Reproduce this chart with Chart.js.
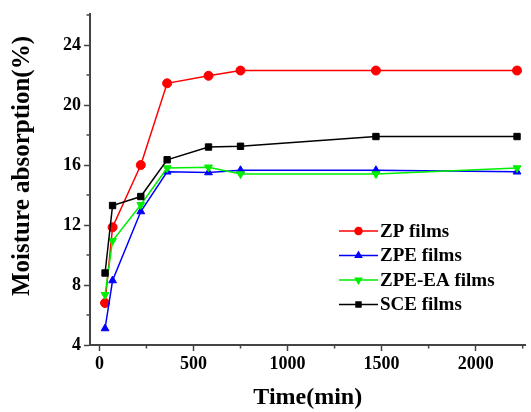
<!DOCTYPE html>
<html>
<head>
<meta charset="utf-8">
<script src="https://cdn.jsdelivr.net/npm/chart.js@4.4.1/dist/chart.umd.min.js"></script>
<style>
  html, body { margin: 0; padding: 0; background: #fff; }
  #wrap { width: 531px; height: 412px; position: relative; }
</style>
</head>
<body>
<div id="wrap"><canvas id="chart"></canvas></div>
<script>
const TIME_MIN = [30, 70, 220, 360, 580, 750, 1470, 2220];
const ZP = [6.8, 11.85, 16.0, 21.45, 21.95, 22.3, 22.3, 22.3];
const ZPE = [5.1, 8.3, 12.9, 15.55, 15.5, 15.65, 15.65, 15.55];
const ZPE_EA = [7.35, 10.95, 13.35, 15.8, 15.85, 15.4, 15.4, 15.8];
const SCE = [8.8, 13.3, 13.9, 16.35, 17.2, 17.25, 17.9, 17.9];

const SERIES_LABELS = ['ZP films', 'ZPE films', 'ZPE-EA films', 'SCE films'];
const Y_TITLE = 'Moisture absorption(%)';
const X_MAJOR = 500, Y_MAJOR = 4;

const FONT = 'Liberation Serif, Times New Roman, serif';
const AXIS_COLOR = '#444';

const pts = ys => ys.map((y, i) => ({ x: TIME_MIN[i], y }));

function series(label, data, color, style, rotation, order) {
    return {
        label, data: pts(data),
        borderColor: color, backgroundColor: color,
        borderWidth: 1.5, pointStyle: style, rotation,
        pointRadius: 4.5, pointBorderWidth: 1, order, tension: 0
    };
}

// short minor ticks, major ones are drawn by the library
const minorTicks = {
    id: 'minorTicks',
    afterDraw(chart) {
        const ctx = chart.ctx;
        const xs = chart.scales.x, ys = chart.scales.y;
        ctx.save();
        ctx.strokeStyle = AXIS_COLOR;
        ctx.lineWidth = 1.5;
        ctx.beginPath();
        for (const t of xs.ticks) {
            if (t.value % X_MAJOR === 0) continue;
            const px = xs.getPixelForValue(t.value);
            ctx.moveTo(px, xs.top); ctx.lineTo(px, xs.top + 3.5);
        }
        for (const t of ys.ticks) {
            if (t.value % Y_MAJOR === 0) continue;
            const py = ys.getPixelForValue(t.value);
            ctx.moveTo(ys.right, py); ctx.lineTo(ys.right - 3.5, py);
        }
        ctx.stroke();
        ctx.restore();
    }
};

// y title sits a bit above the axis centre in the original
const yTitle = {
    id: 'yTitle',
    afterDraw(chart) {
        const ctx = chart.ctx;
        ctx.save();
        ctx.translate(23, 166);
        ctx.rotate(-Math.PI / 2);
        ctx.font = 'bold 25px ' + FONT;
        ctx.fillStyle = '#000';
        ctx.textAlign = 'center';
        ctx.textBaseline = 'middle';
        ctx.fillText(Y_TITLE, 0, 0);
        ctx.restore();
    }
};

// legend with line + marker like the original
const lineLegend = {
    id: 'lineLegend',
    afterDraw(chart) {
        const ctx = chart.ctx;
        const x0 = 339, x1 = 378, rowY = [231, 255.5, 280, 304.5];
        ctx.save();
        chart.data.datasets.forEach((ds, i) => {
            const y = rowY[i];
            ctx.strokeStyle = ds.borderColor;
            ctx.lineWidth = 1.5;
            ctx.beginPath(); ctx.moveTo(x0, y); ctx.lineTo(x1, y); ctx.stroke();
            ctx.fillStyle = ds.backgroundColor;
            Chart.helpers.drawPoint(ctx, {
                pointStyle: ds.pointStyle, rotation: ds.rotation || 0,
                radius: 3.5, borderWidth: 1
            }, (x0 + x1) / 2, y);
            ctx.fillStyle = '#000';
            ctx.font = 'bold 19px ' + FONT;
            ctx.textBaseline = 'middle';
            ctx.textAlign = 'left';
            ctx.fillText(ds.label, x1 + 2, y + 1);
        });
        ctx.restore();
    }
};

new Chart(document.getElementById('chart'), {
    type: 'line',
    data: {
        datasets: [
            series(SERIES_LABELS[0], ZP, '#ff0000', 'circle', 0, 4),
            series(SERIES_LABELS[1], ZPE, '#0000ff', 'triangle', 0, 3),
            series(SERIES_LABELS[2], ZPE_EA, '#00ee00', 'triangle', 180, 2),
            series(SERIES_LABELS[3], SCE, '#000000', 'rect', 0, 1)
        ]
    },
    options: {
        responsive: true, maintainAspectRatio: false, animation: false,
        layout: { padding: { top: 14, right: 4, left: 0, bottom: 0 } },
        plugins: { legend: { display: false }, tooltip: { enabled: false } },
        scales: {
            x: {
                type: 'linear', min: -50, max: 2265,
                grid: { drawOnChartArea: false, tickLength: 6, tickWidth: 1.5,
                    tickColor: c => (c.tick && c.tick.value % X_MAJOR === 0) ? AXIS_COLOR : 'rgba(0,0,0,0)' },
                border: { color: AXIS_COLOR, width: 2 },
                ticks: {
                    stepSize: 250, includeBounds: false, maxRotation: 0, autoSkip: false,
                    color: '#000', padding: 3,
                    font: { family: FONT, size: 18, weight: 'bold' },
                    callback: v => v % X_MAJOR === 0 ? String(v) : ''
                },
                title: { display: true, text: 'Time(min)', color: '#000',
                    font: { family: FONT, size: 24, weight: 'bold' }, padding: { top: 0, bottom: 0 } },
                afterFit: s => { s.height = 67; s.paddingLeft = 0; s.paddingRight = 0; }
            },
            y: {
                min: 4, max: 26.07,
                grid: { drawOnChartArea: false, tickLength: 6, tickWidth: 1.5,
                    tickColor: c => (c.tick && c.tick.value % Y_MAJOR === 0) ? AXIS_COLOR : 'rgba(0,0,0,0)' },
                border: { color: AXIS_COLOR, width: 2 },
                ticks: {
                    stepSize: 2, includeBounds: false, autoSkip: false,
                    color: '#000', padding: 3,
                    font: { family: FONT, size: 18, weight: 'bold' },
                    callback: v => v % Y_MAJOR === 0 ? String(v) : ''
                },
                title: { display: false },
                afterFit: s => { s.width = 90; s.paddingTop = 0; s.paddingBottom = 0; }
            }
        }
    },
    plugins: [minorTicks, yTitle, lineLegend]
});
</script>
</body>
</html>
